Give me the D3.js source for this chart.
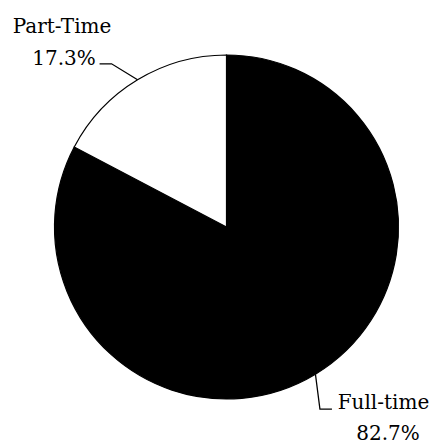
<!DOCTYPE html>
<html>
<head>
<meta charset="utf-8">
<script src="https://cdn.jsdelivr.net/npm/d3@7"></script>
<style>
  html, body { margin: 0; padding: 0; background: #fff; }
  svg { display: block; }
</style>
</head>
<body>
<svg id="chart" width="437" height="444"></svg>
<script>
const categories = ["Full-time", "Part-Time"];
const values = [82.7, 17.3];
const percentLabels = ["82.7%", "17.3%"];
const fills = ["#000000", "#ffffff"];

const width = 437, height = 444;
const cx = 226.5, cy = 227, radius = 172;

const svg = d3.select("#chart");
const g = svg.append("g").attr("transform", `translate(${cx},${cy})`);

const data = categories.map((c, i) => ({ category: c, value: values[i], label: percentLabels[i], fill: fills[i] }));

const pie = d3.pie().value(d => d.value).sort(null);
const arcs = pie(data);

const arc = d3.arc().innerRadius(0).outerRadius(radius);
const edgeArc = d3.arc().innerRadius(radius).outerRadius(radius);

g.selectAll("path.slice")
  .data(arcs)
  .join("path")
  .attr("class", "slice")
  .attr("d", arc)
  .attr("fill", d => d.data.fill)
  .attr("stroke", "#000")
  .attr("stroke-width", 1.2);

// label layout (relative offsets from the slice edge point)
const layout = {
  "Full-time": { elbow: [4.5, 35], end: [16.5, 35], lines: [[157, 182], [161.5, 213]] },
  "Part-Time": { elbow: [-26, -16], end: [-38, -16], lines: [[-164.5, -194], [-162.5, -162]] }
};

arcs.forEach(d => {
  const [ex, ey] = edgeArc.centroid(d);
  const L = layout[d.data.category];
  g.append("polyline")
    .attr("points", [[ex, ey], [ex + L.elbow[0], ey + L.elbow[1]], [ex + L.end[0], ey + L.end[1]]].map(p => p.join(",")).join(" "))
    .attr("fill", "none")
    .attr("stroke", "#000")
    .attr("stroke-width", 1.3);
  const texts = [d.data.category, d.data.label];
  texts.forEach((t, i) => {
    g.append("text")
      .attr("x", L.lines[i][0])
      .attr("y", L.lines[i][1])
      .attr("text-anchor", "middle")
      .attr("font-family", "'DejaVu Serif', serif")
      .attr("font-size", 20)
      .attr("fill", "#000")
      .text(t);
  });
});
</script>
</body>
</html>
